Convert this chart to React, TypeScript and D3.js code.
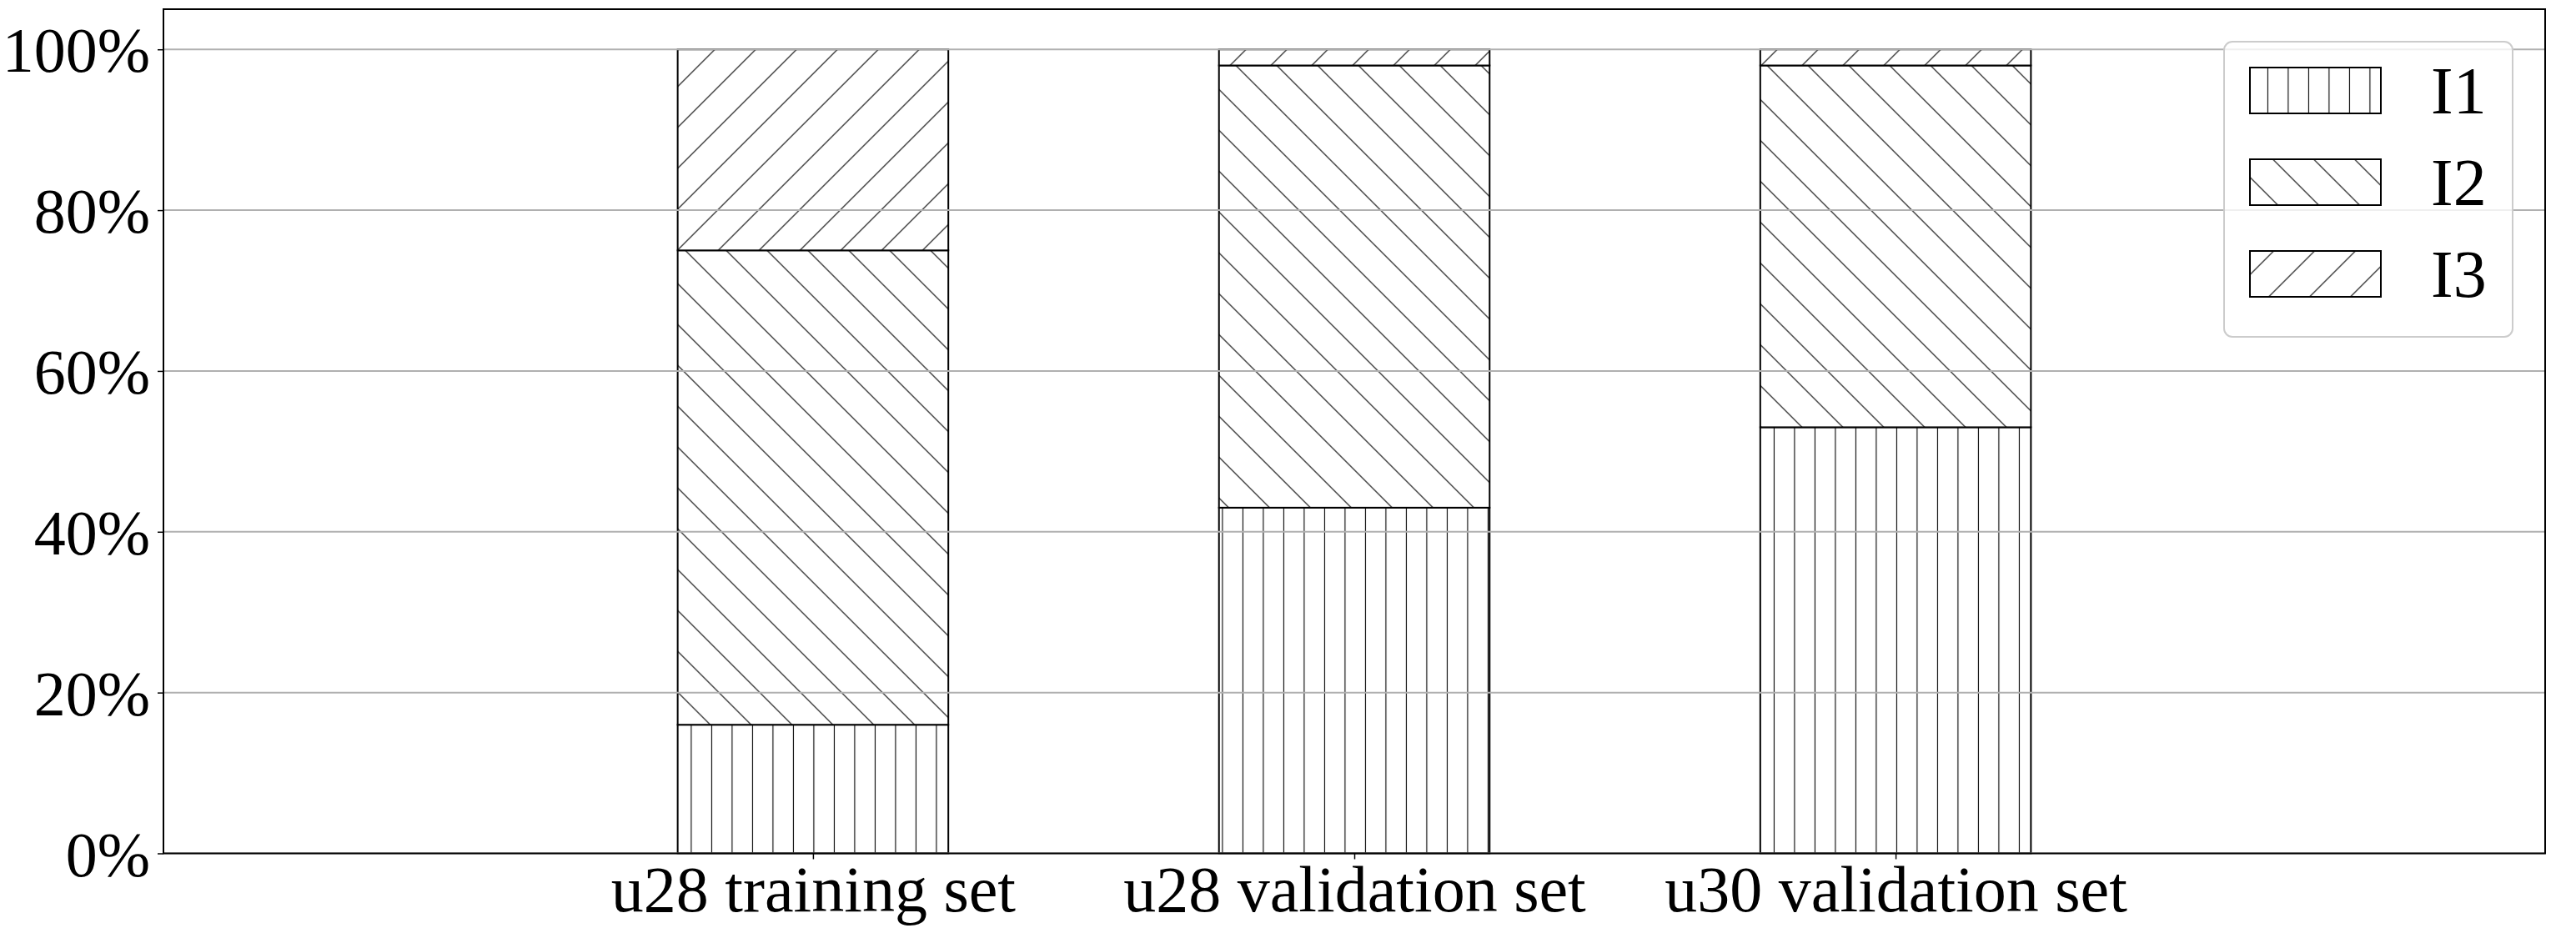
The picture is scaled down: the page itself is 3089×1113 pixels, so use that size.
import React, { useEffect, useRef } from "react";
import * as d3 from "d3";

const categories = ["u28 training set", "u28 validation set", "u30 validation set"];
const seriesKeys = ["I1", "I2", "I3"];
const valuesI1 = [16, 43, 53];
const valuesI2 = [59, 55, 45];
const valuesI3 = [25, 2, 2];
const yTickValues = [0, 20, 40, 60, 80, 100];

const WIDTH = 3089;
const HEIGHT = 1113;
const FONT = "'Liberation Serif', 'Times New Roman', Times, serif";

// hatch per series: I1 "|", I2 "\", I3 "/"
const hatchKinds = ["vert", "back", "fwd"];

function addHatch(defs, id, kind, shift) {
  const p = defs.append("pattern").attr("id", id).attr("patternUnits", "userSpaceOnUse").attr("y", 0);
  if (kind === "vert") {
    p.attr("x", 8.15 + shift).attr("width", 24.5).attr("height", 24.5);
    p.append("path").attr("d", "M12.25,-1V25.5");
  } else if (kind === "back") {
    p.attr("x", 31.5 + shift).attr("width", 49).attr("height", 49);
    p.append("path").attr("d", "M-5,-5L54,54M-5,44L5,54M44,-5L54,5");
  } else {
    p.attr("x", 34.5 + shift).attr("width", 49).attr("height", 49);
    p.append("path").attr("d", "M54,-5L-5,54M-5,5L5,-5M44,54L54,44");
  }
  p.selectAll("path").attr("stroke", "#000").attr("stroke-width", 1.1).attr("fill", "none");
}

const App = () => {
  const svgRef = useRef(null);

  useEffect(() => {
    const svg = d3.select(svgRef.current);
    svg.selectAll("*").remove();
    svg.attr("width", WIDTH).attr("height", HEIGHT);

    const plot = { left: 196, right: 3052, top: 11, bottom: 1023.5 };
    const x = d3.scaleLinear().domain([-1.2, 3.2]).range([plot.left, plot.right]);
    const y = d3.scaleLinear().domain([0, 105]).range([plot.bottom, plot.top]);
    const halfBar = 0.25;

    const defs = svg.append("defs");
    hatchKinds.forEach((k) => {
      addHatch(defs, `bar-${k}`, k, 0);
      addHatch(defs, `leg-${k}`, k, 4);
    });

    svg.append("rect").attr("width", WIDTH).attr("height", HEIGHT).attr("fill", "#fff");

    // stacked bars
    const rows = categories.map((c, i) => ({ index: i, I1: valuesI1[i], I2: valuesI2[i], I3: valuesI3[i] }));
    const stacked = d3.stack().keys(seriesKeys)(rows);

    stacked.forEach((layer, li) => {
      const g = svg.append("g");
      layer.forEach((d) => {
        const i = d.data.index;
        const x0 = x(i - halfBar);
        const w = x(i + halfBar) - x0;
        const y0 = y(d[1]);
        const h = y(d[0]) - y(d[1]);
        g.append("rect").attr("x", x0).attr("y", y0).attr("width", w).attr("height", h).attr("fill", "#fff");
        g.append("rect")
          .attr("x", x0)
          .attr("y", y0)
          .attr("width", w)
          .attr("height", h)
          .attr("fill", `url(#bar-${hatchKinds[li]})`)
          .attr("stroke", "#000")
          .attr("stroke-width", 2);
      });
    });

    // grid on top of bars (matplotlib axisbelow='line')
    svg
      .append("g")
      .selectAll("line")
      .data(yTickValues)
      .join("line")
      .attr("x1", plot.left)
      .attr("x2", plot.right)
      .attr("y1", (d) => y(d))
      .attr("y2", (d) => y(d))
      .attr("stroke", "#b0b0b0")
      .attr("stroke-width", 2);

    // frame
    svg
      .append("rect")
      .attr("x", plot.left)
      .attr("y", plot.top)
      .attr("width", plot.right - plot.left)
      .attr("height", plot.bottom - plot.top)
      .attr("fill", "none")
      .attr("stroke", "#000")
      .attr("stroke-width", 2);

    // y axis
    const yAxis = svg
      .append("g")
      .attr("transform", `translate(${plot.left},0)`)
      .call(
        d3
          .axisLeft(y)
          .tickValues(yTickValues)
          .tickSize(7)
          .tickPadding(9)
          .tickFormat((d) => `${d}%`)
      );
    yAxis.select(".domain").remove();
    yAxis.selectAll("line").attr("stroke-width", 1.5);
    yAxis
      .selectAll("text")
      .attr("dy", "0.35em")
      .attr("fill", "#000")
      .style("font-family", FONT)
      .style("font-size", "76px");

    // x axis
    const xAxis = svg
      .append("g")
      .attr("transform", `translate(0,${plot.bottom})`)
      .call(
        d3
          .axisBottom(x)
          .tickValues(categories.map((_, i) => i))
          .tickSize(7)
          .tickFormat((i) => categories[i])
      );
    xAxis.select(".domain").remove();
    xAxis.selectAll("line").attr("stroke-width", 1.5);
    xAxis
      .selectAll("text")
      .attr("y", 69.5)
      .attr("dy", 0)
      .attr("fill", "#000")
      .style("font-family", FONT)
      .style("font-size", "78px");

    // legend
    const legend = svg.append("g");
    legend
      .append("rect")
      .attr("x", 2667)
      .attr("y", 50)
      .attr("width", 346)
      .attr("height", 354)
      .attr("rx", 10)
      .attr("fill", "#fff")
      .attr("fill-opacity", 0.8)
      .attr("stroke", "#cccccc")
      .attr("stroke-width", 2);

    seriesKeys.forEach((key, i) => {
      const top = 81 + i * 110;
      legend
        .append("rect")
        .attr("x", 2698)
        .attr("y", top)
        .attr("width", 157)
        .attr("height", 55)
        .attr("fill", "#fff");
      legend
        .append("rect")
        .attr("x", 2698)
        .attr("y", top)
        .attr("width", 157)
        .attr("height", 55)
        .attr("fill", `url(#leg-${hatchKinds[i]})`)
        .attr("stroke", "#000")
        .attr("stroke-width", 2);
      legend
        .append("text")
        .attr("x", 2915)
        .attr("y", top + 55)
        .attr("fill", "#000")
        .style("font-family", FONT)
        .style("font-size", "80px")
        .text(key);
    });
  }, []);

  return <svg ref={svgRef} style={{ position: "absolute", left: 0, top: 0, display: "block" }} />;
};

export default App;
